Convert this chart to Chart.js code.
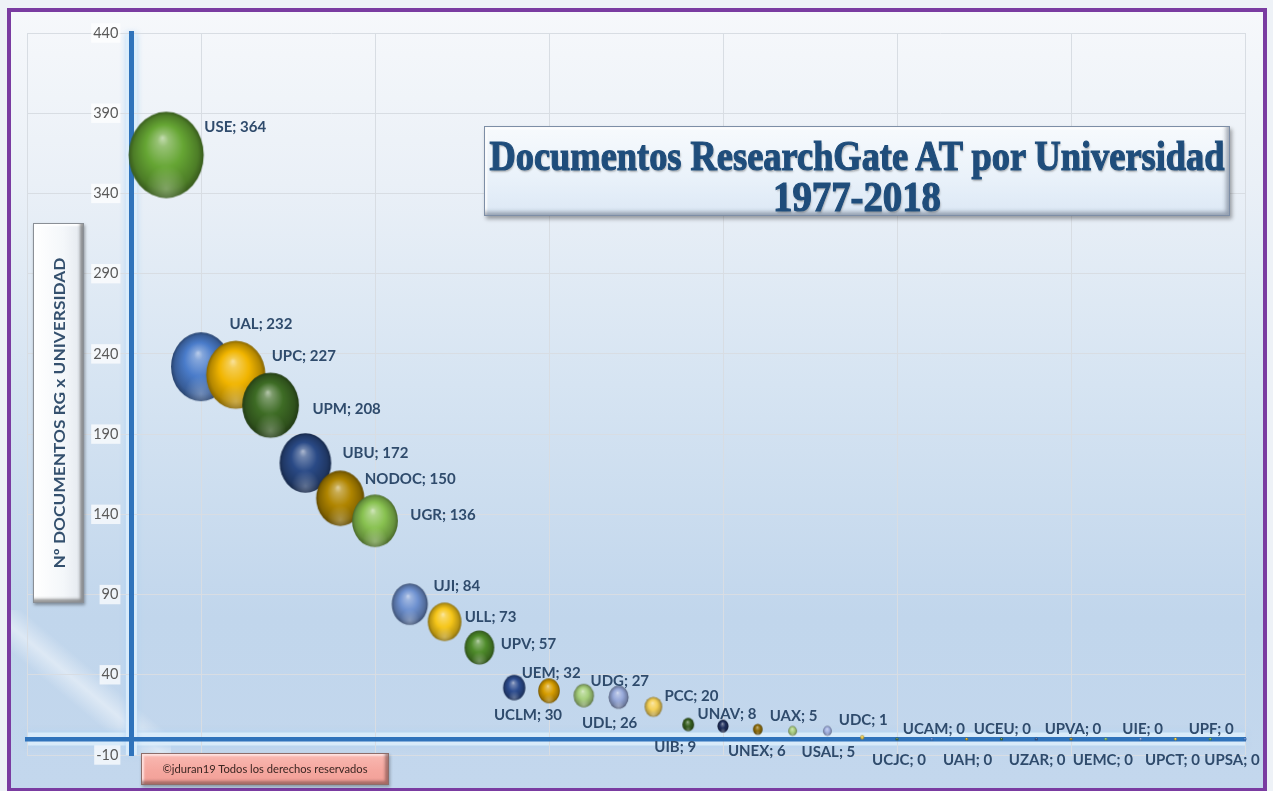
<!DOCTYPE html>
<html>
<head>
<meta charset="utf-8">
<script src="https://cdn.jsdelivr.net/npm/chart.js@4.4.0/dist/chart.umd.min.js"></script>
<style>
  html, body { margin: 0; padding: 0; background: #eef2f7; }
  #wrap { position: relative; width: 1273px; height: 791px; overflow: hidden; background: #eef2f7; }
  #frame {
    position: absolute; left: 7px; top: 8px; width: 1252px; height: 776px;
    border: 4px solid #7a3ca1; border-bottom-width: 3px;
    background: linear-gradient(to bottom, #f6f8fb 0%, #eaf0f7 22%, #d6e4f2 48%, #c1d6ec 78%, #c3d7ed 100%);
  }
  #sheen {
    position: absolute; left: 11px; top: 610px; width: 160px; height: 150px;
    background: linear-gradient(40deg, rgba(255,255,255,0) 38%, rgba(255,255,255,0.45) 47%, rgba(255,255,255,0) 56%);
  }
  canvas#c { position: absolute; left: 0; top: 0; }
  #titleBox {
    position: absolute; left: 484px; top: 126px; width: 744px; height: 88px;
    border: 1px solid #7d8ea6;
    background: linear-gradient(to bottom, #f7fafd 0%, #eaf2fa 55%, #dce8f5 100%);
    box-shadow: inset -3px -3px 4px rgba(60,70,90,0.45), inset 2px 2px 2px rgba(255,255,255,0.95), 2px 3px 4px rgba(0,0,0,0.35);
    z-index: 3; overflow: visible;
  }
  .tline {
    position: absolute; left: 50%; white-space: nowrap;
    font-family: "Liberation Serif", "DejaVu Serif", serif; font-weight: bold; font-size: 43px;
    color: #1f4d7b; -webkit-text-stroke: 1.2px #1f4d7b;
    text-shadow: 1px 2px 2px rgba(90,90,90,0.45);
    line-height: 42px;
  }
  #yTitleBox {
    position: absolute; left: 33px; top: 223px; width: 49px; height: 378px;
    border: 1px solid #8a8f96;
    background: linear-gradient(to right, #ffffff 0%, #f4f7fa 60%, #e3e8ee 100%);
    box-shadow: inset -3px -3px 3px rgba(50,50,50,0.5), inset 2px 2px 2px rgba(255,255,255,1), 1px 2px 3px rgba(0,0,0,0.35);
    z-index: 3;
  }
  #yTitle {
    position: absolute; left: 50%; top: 50%; white-space: nowrap;
    font-family: Lato, "Open Sans", sans-serif; font-weight: bold; font-size: 14.5px; color: #34506e;
  }
  #copyBox {
    position: absolute; left: 141px; top: 753px; width: 246px; height: 30px;
    border: 1px solid #8d6d6a;
    background: linear-gradient(to bottom, #f9b9b2 0%, #f5a79f 55%, #f2a097 100%);
    box-shadow: inset -3px -3px 3px rgba(70,40,40,0.45), inset 2px 2px 2px rgba(255,230,228,0.9), 1px 2px 3px rgba(0,0,0,0.3);
    z-index: 3;
  }
  #copy {
    position: absolute; left: 50%; top: 8px; white-space: nowrap;
    font-family: Lato, "Open Sans", sans-serif; font-size: 11px; color: #3a2622; line-height: 14px;
  }
</style>
</head>
<body>
<div id="wrap">
  <div id="frame"></div>
  <div id="sheen"></div>
  <canvas id="c" width="1273" height="791"></canvas>
  <div id="titleBox">
    <div class="tline" id="t1" style="top:8px">Documentos ResearchGate AT por Universidad</div>
    <div class="tline" id="t2" style="top:49px">1977-2018</div>
  </div>
  <div id="yTitleBox"><div id="yTitle">Nº DOCUMENTOS RG x UNIVERSIDAD</div></div>
  <div id="copyBox"><div id="copy">©jduran19 Todos los derechos reservados</div></div>
</div>
<script>
// ---------------- DATA ----------------
const universidades = ["USE","UAL","UPC","UPM","UBU","NODOC","UGR","UJI","ULL","UPV",
  "UEM","UCLM","UDG","UDL","PCC","UIB","UNAV","UNEX","UAX","USAL",
  "UDC","UCJC","UCAM","UAH","UCEU","UZAR","UPVA","UEMC","UIE","UPCT","UPF","UPSA"];
const documentos = [364,232,227,208,172,150,136,84,73,57,
  32,30,27,26,20,9,8,6,5,5,
  1,0,0,0,0,0,0,0,0,0,0,0];
const yTickMin = -10, yTickMax = 440, yTickStep = 50;
const xTickMin = -3, xTickMax = 32, xTickStep = 5;

// ---------------- STYLE ----------------
const bubbleColors = ["#66a634","#4a7cca","#f1b500","#3e6c25","#2a4a86","#b08500","#88c150","#6e91d0","#f6c619","#4f8c2b",
  "#2c4c8f","#d69d00","#a7d07d","#97a9da","#f4d056","#365e1e","#1f2f5d","#8d6b08","#aacf80","#a1b0e1",
  "#e9c43b","#3e6c25","#4a7cca","#d69d00","#3e6c25","#2a4a86","#b08500","#88c150","#6e91d0","#f6c619","#62a131","#4a7cca"];
// label offsets (px) relative to bubble centre
const labelOffsets = [[69,-28],[60,-43],[68,-19],[76,4],[70,-10],[70,-19],[68,-6],[47,-18],[46,-5],[49,-3],
  [37,-14],[-21,24],[36,-14],[-9,26],[38,-11],[-13,23],[4,-12],[-1,22],[1,-15],[1,21],
  [1,-17],[2,21],[2,-10],[1,21],[1,-10],[1,21],[2,-10],[-3,21],[2,-10],[-3,21],[1,-10],[-13,21]];
const sizeFactor = 1.966;   // px of radius per sqrt(value)
const ellipseRatio = 1.15;
const tickLabelGap = 13;    // px between y tick labels and the axis line

function hexToRgb(h){ const n=parseInt(h.slice(1),16); return [(n>>16)&255,(n>>8)&255,n&255]; }
function mix(h, t, a){ const c=hexToRgb(h), d=hexToRgb(t);
  return 'rgb('+c.map((v,i)=>Math.round(v+(d[i]-v)*a)).join(',')+')'; }
const spriteCache = {};
function sphere(hex, rx){
  const key = hex + '_' + rx.toFixed(2);
  if (spriteCache[key]) return spriteCache[key];
  const ry = rx * ellipseRatio;
  const w = Math.ceil(rx*2)+2, h = Math.ceil(ry*2)+2;
  const cv = document.createElement('canvas'); cv.width = w; cv.height = h;
  const g = cv.getContext('2d');
  g.translate(w/2, h/2); g.scale(1, ry/rx);
  const grad = g.createRadialGradient(-0.1*rx, -0.4*rx, 0, 0, 0, rx);
  grad.addColorStop(0, mix(hex,'#ffffff',0.62));
  grad.addColorStop(0.15, mix(hex,'#ffffff',0.32));
  grad.addColorStop(0.5, hex);
  grad.addColorStop(0.86, mix(hex,'#000000',0.25));
  grad.addColorStop(1, mix(hex,'#000000',0.45));
  g.beginPath(); g.arc(0,0,rx,0,Math.PI*2); g.fillStyle = grad; g.fill();
  const g2 = g.createRadialGradient(0, 0.78*rx, 0, 0, 0.78*rx, rx*0.55);
  g2.addColorStop(0,'rgba(255,255,255,0.28)'); g2.addColorStop(1,'rgba(255,255,255,0)');
  g.fillStyle = g2; g.fill();
  spriteCache[key] = cv; return cv;
}

const bubbleData = documentos.map((v,i)=>({x: i+1, y: v, r: Math.max(1.4, sizeFactor*Math.sqrt(v))}));

const glowPlugin = {
  id: 'axisGlow',
  beforeDraw(chart){
    const {ctx, chartArea: a, scales: {x, y}} = chart;
    const px = x.getPixelForValue(0), py = y.getPixelForValue(0);
    ctx.save();
    ctx.strokeStyle = 'rgba(222,238,252,0.85)';
    ctx.shadowColor = 'rgba(170,210,245,0.9)'; ctx.shadowBlur = 6;
    ctx.lineWidth = 13;
    ctx.beginPath(); ctx.moveTo(a.left, py); ctx.lineTo(a.right, py); ctx.stroke();
    ctx.lineWidth = 11;
    ctx.beginPath(); ctx.moveTo(px, a.top); ctx.lineTo(px, a.bottom); ctx.stroke();
    ctx.restore();
    // keep the y tick labels a little away from the crossing axis line
    const items = y.getLabelItems(a);
    if (!items._shifted) { items.forEach(it => { it.options.translation[0] -= tickLabelGap; }); items._shifted = true; }
  }
};
const labelPlugin = {
  id: 'bubbleLabels',
  afterDatasetsDraw(chart){
    const ctx = chart.ctx, meta = chart.getDatasetMeta(0);
    ctx.save();
    ctx.font = 'bold 15px Lato, "Open Sans", sans-serif';
    ctx.fillStyle = '#2f4b6c'; ctx.textAlign = 'center'; ctx.textBaseline = 'middle';
    meta.data.forEach((el,i)=>{
      const o = labelOffsets[i];
      ctx.fillText(universidades[i] + '; ' + documentos[i], el.x + o[0], el.y + o[1]);
    });
    ctx.restore();
  }
};
const noPad = (s) => { s.paddingLeft = 0; s.paddingRight = 0; s.paddingTop = 0; s.paddingBottom = 0; };

new Chart(document.getElementById('c'), {
  type: 'bubble',
  data: { datasets: [{
    label: 'Documentos',
    data: bubbleData,
    backgroundColor: bubbleColors,
    borderWidth: 0,
    clip: false,
    pointStyle: (ctx) => {
      if (ctx.type !== 'data' || !ctx.raw) return 'circle';
      return sphere(bubbleColors[ctx.dataIndex], ctx.raw.r);
    }
  }]},
  options: {
    responsive: false, animation: false, devicePixelRatio: 1, events: [],
    layout: { autoPadding: false, padding: { left: 27, right: 28, top: 33, bottom: 36 } },
    plugins: { legend: { display: false }, title: { display: false }, tooltip: { enabled: false } },
    scales: {
      x: { type: 'linear', min: xTickMin, max: xTickMax, position: { y: 0 }, afterFit: noPad,
        ticks: { display: false, stepSize: xTickStep },
        grid: { color: '#d8dde3', lineWidth: 1, drawTicks: false },
        border: { display: true, color: '#2f73bb', width: 4.5 } },
      y: { type: 'linear', min: yTickMin, max: yTickMax, position: { x: 0 }, afterFit: noPad,
        ticks: { stepSize: yTickStep, padding: 13, color: '#595959',
          font: { family: 'Lato', size: 14.5 },
          showLabelBackdrop: true, backdropColor: 'rgba(255,255,255,0.72)', backdropPadding: { x: 2, y: 1 } },
        grid: { color: '#d8dde3', lineWidth: 1, drawTicks: false },
        border: { display: true, color: '#2f73bb', width: 5 } }
    }
  },
  plugins: [glowPlugin, labelPlugin]
});

// fit decorative texts to their measured widths, centred
function fitX(id, w){ const el=document.getElementById(id); const cw=el.getBoundingClientRect().width;
  el.style.transform='translateX(-50%) scaleX('+(w/cw)+')'; }
fitX('t1', 735); fitX('t2', 168); fitX('copy', 205);
const yt = document.getElementById('yTitle');
const ytw = yt.getBoundingClientRect().width;
yt.style.transform = 'translate(-50%,-50%) rotate(-90deg) scaleX(' + (311/ytw) + ')';
</script>
</body>
</html>
